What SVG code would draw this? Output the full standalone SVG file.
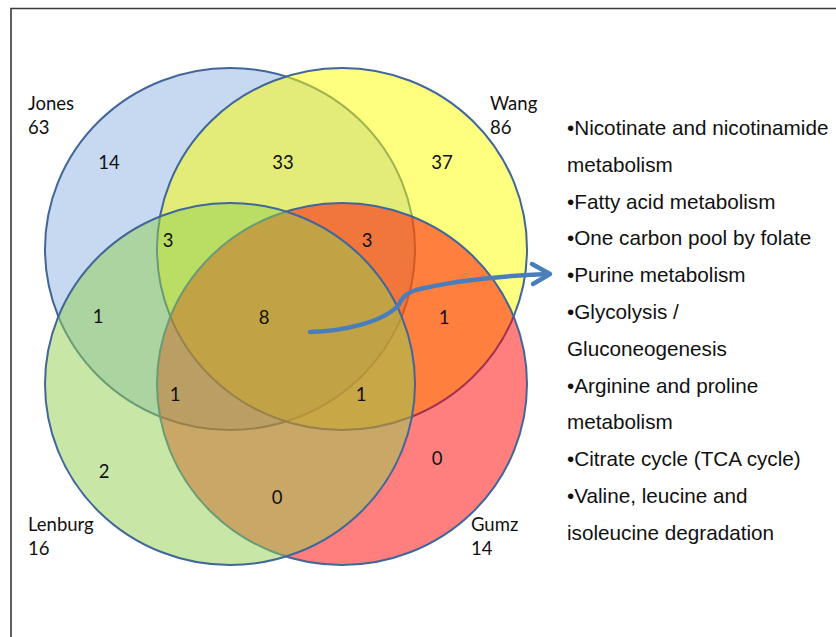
<svg xmlns="http://www.w3.org/2000/svg" width="836" height="637" viewBox="0 0 836 637">
  <defs>
    <style>
      .set { stroke: #41669a; stroke-width: 2; fill-opacity: 0.5; }
      .num { font-family: Lato, "Liberation Sans", sans-serif; font-size: 18.5px; fill: #111; text-anchor: middle; }
      .lbl { font-family: Lato, "Liberation Sans", sans-serif; font-size: 18.5px; fill: #111; }
      .item { font-family: "Liberation Sans", Arial, sans-serif; font-size: 20.7px; fill: #111; }
      .link { fill: none; stroke: #4a7ebb; stroke-width: 4.5; stroke-linecap: round; stroke-linejoin: round; }
    </style>
  </defs>

  <rect width="836" height="637" fill="#ffffff"/>
  <!-- frame -->
  <path d="M11,637 V8.5 H836" fill="none" stroke="#3a3a3a" stroke-width="1.6"/>

  <!-- four sets, drawn in stacking order -->
  <g id="jones"><ellipse class="set" cx="230" cy="249" rx="185" ry="181" fill="#8db3e2"/></g>
  <g id="wang"><ellipse class="set" cx="342" cy="249" rx="185" ry="181" fill="#ffff00"/></g>
  <g id="gumz"><ellipse class="set" cx="342" cy="384" rx="185" ry="181" fill="#ff0000"/></g>
  <g id="lenburg"><ellipse class="set" cx="230" cy="384" rx="185" ry="181" fill="#92d050"/></g>

  <!-- set names and totals -->
  <g id="labels">
    <text class="lbl" x="28" y="110">Jones</text>
    <text class="lbl" x="28" y="134">63</text>
    <text class="lbl" x="490" y="110">Wang</text>
    <text class="lbl" x="490" y="134">86</text>
    <text class="lbl" x="28" y="531">Lenburg</text>
    <text class="lbl" x="28" y="555">16</text>
    <text class="lbl" x="471" y="531">Gumz</text>
    <text class="lbl" x="471" y="555">14</text>
  </g>

  <!-- region counts -->
  <g id="counts">
    <text class="num" x="109" y="169">14</text>
    <text class="num" x="283" y="169">33</text>
    <text class="num" x="442" y="169">37</text>
    <text class="num" x="168" y="247">3</text>
    <text class="num" x="367" y="247">3</text>
    <text class="num" x="98" y="323">1</text>
    <text class="num" x="264" y="324">8</text>
    <text class="num" x="444" y="324">1</text>
    <text class="num" x="175" y="401">1</text>
    <text class="num" x="361" y="401">1</text>
    <text class="num" x="104" y="478">2</text>
    <text class="num" x="437" y="465">0</text>
    <text class="num" x="277" y="504">0</text>
  </g>

  <!-- connector from the shared core to the pathway list -->
  <g id="connectors">
    <path class="link" d="M310,332 C345,331 382,322 398,306 C402,298 405,294 416,290 C452,281 500,276 548,274"/>
    <path class="link" d="M532,264 L550,274 L533,284"/>
  </g>

  <!-- shared pathways -->
  <g id="pathways">
    <text class="item" x="567" y="135">•Nicotinate and nicotinamide</text>
    <text class="item" x="567" y="171.8">metabolism</text>
    <text class="item" x="567" y="208.6">•Fatty acid metabolism</text>
    <text class="item" x="567" y="245.4">•One carbon pool by folate</text>
    <text class="item" x="567" y="282.2">•Purine metabolism</text>
    <text class="item" x="567" y="319">•Glycolysis /</text>
    <text class="item" x="567" y="355.8">Gluconeogenesis</text>
    <text class="item" x="567" y="392.6">•Arginine and proline</text>
    <text class="item" x="567" y="429.4">metabolism</text>
    <text class="item" x="567" y="466.2">•Citrate cycle (TCA cycle)</text>
    <text class="item" x="567" y="503">•Valine, leucine and</text>
    <text class="item" x="567" y="539.8">isoleucine degradation</text>
  </g>
</svg>
